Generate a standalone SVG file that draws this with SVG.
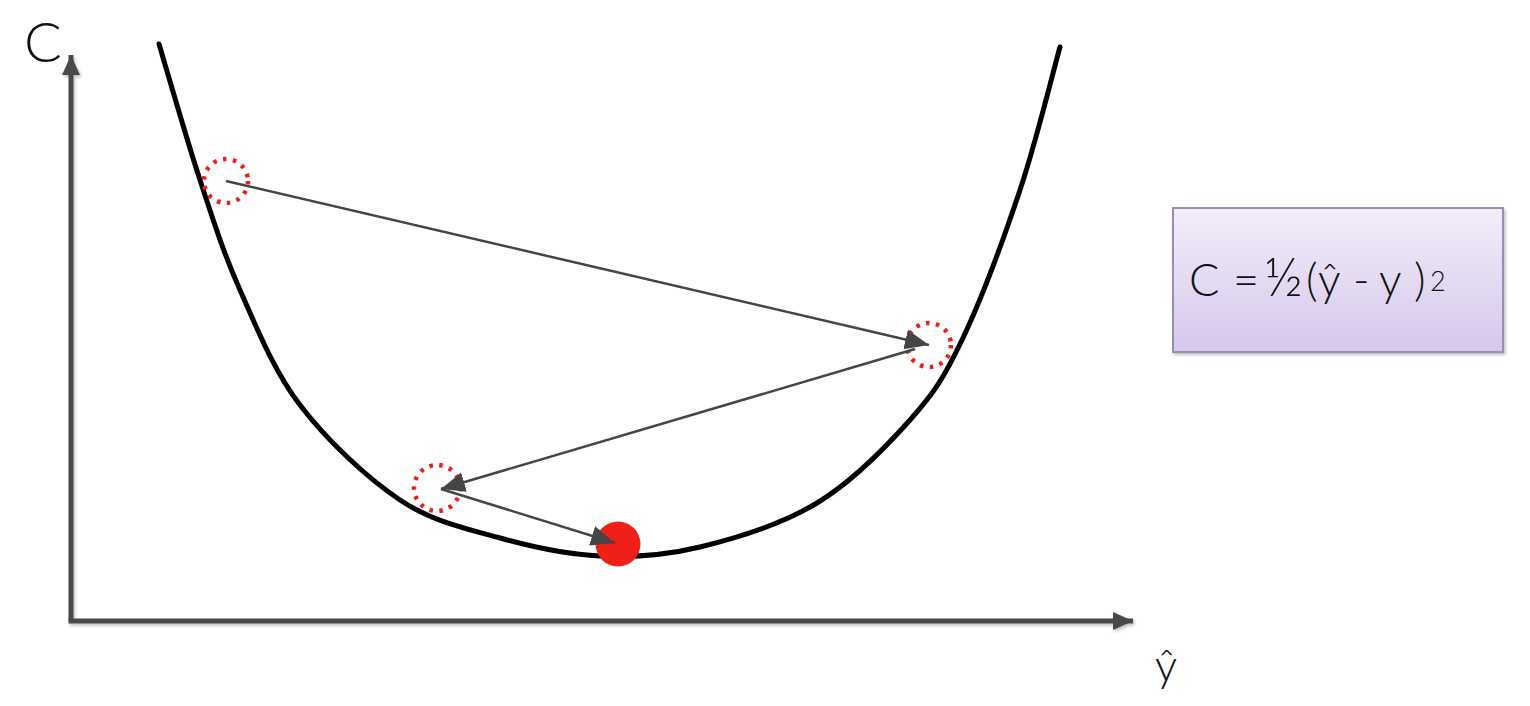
<svg xmlns="http://www.w3.org/2000/svg" width="1530" height="706" viewBox="0 0 1530 706">
  <style>
    .axis { stroke: #4a4a4a; stroke-width: 5; fill: none; }
    .curve { stroke: #000; stroke-width: 5; fill: none; stroke-linecap: round; }
    .dotted { fill: none; stroke: #e8201a; stroke-width: 4.5; stroke-dasharray: 3.5 6.5; }
    .step { stroke: #454545; stroke-width: 2.5; fill: none; }
    .lbl { font-family: Lato, "Open Sans", "Liberation Sans", sans-serif; font-weight: 300; fill: #111; }
  </style>
  <defs>
    <marker id="axhead" markerUnits="userSpaceOnUse" markerWidth="24" markerHeight="24" refX="20" refY="10" orient="auto">
      <path d="M0,1 L20,10 L0,19 Z" fill="#4a4a4a"/>
    </marker>
    <marker id="stephead" markerUnits="userSpaceOnUse" markerWidth="26" markerHeight="22" refX="24" refY="10" orient="auto">
      <path d="M0,0 L24,10 L0,20 Z" fill="#454545"/>
    </marker>
    <linearGradient id="boxfill" x1="0" y1="0" x2="0" y2="1">
      <stop offset="0" stop-color="#f2eef8"/>
      <stop offset="1" stop-color="#d6c7ec"/>
    </linearGradient>
    <filter id="shadow" x="-10%" y="-10%" width="130%" height="130%">
      <feDropShadow dx="1.5" dy="2" stdDeviation="1.5" flood-color="#000" flood-opacity="0.25"/>
    </filter>
  </defs>

  <g id="axes" filter="url(#shadow)">
    <path class="axis" d="M71,621 L71,55" marker-end="url(#axhead)"/>
    <path class="axis" d="M68.5,621 L1133,621" marker-end="url(#axhead)"/>
  </g>

  <g id="axis-labels">
    <text class="lbl" x="24" y="62" font-size="56">C</text>
    <text class="lbl" x="1155" y="681" font-size="44">ŷ</text>
  </g>

  <g id="cost-curve">
    <path class="curve" d="M159,44 C165.8,66.7 186.5,139 200,180 C213.5,221 223.3,252.5 240,290 C256.7,327.5 273.3,370 300,405 C326.7,440 366.7,477.8 400,500 C433.3,522.2 466.7,528.7 500,538 C533.3,547.3 566.7,554.5 600,556 C633.3,557.5 663.8,555.8 700,547 C736.2,538.2 782,524.2 817,503 C852,481.8 885.8,447.2 910,420 C934.2,392.8 943.7,378.3 962,340 C980.3,301.7 1003.7,238.8 1020,190 C1036.3,141.2 1053.3,70.8 1060,47"/>
  </g>

  <g id="step1"><circle class="dotted" cx="226" cy="181" r="22"/></g>
  <g id="step2"><circle class="dotted" cx="929" cy="345" r="22"/></g>
  <g id="step3"><circle class="dotted" cx="437" cy="488" r="23"/></g>
  <g id="minimum"><circle cx="618" cy="544" r="22.5" fill="#ee2018"/></g>

  <g id="connectors">
    <line class="step" x1="226" y1="181" x2="929" y2="345" marker-end="url(#stephead)"/>
    <line class="step" x1="915" y1="349" x2="441" y2="489" marker-end="url(#stephead)"/>
    <line class="step" x1="441" y1="489" x2="615" y2="543" marker-end="url(#stephead)"/>
  </g>

  <g id="formula-box">
    <rect x="1173" y="208" width="330" height="144" fill="url(#boxfill)" stroke="#9b8cb3" stroke-width="2" filter="url(#shadow)"/>
    <text class="lbl" y="296" font-size="45" fill="#222"><tspan x="1189">C</tspan><tspan x="1233">=</tspan><tspan x="1264" font-size="54">½</tspan><tspan x="1306">(</tspan><tspan x="1318">ŷ</tspan><tspan x="1353">-</tspan><tspan x="1379">y</tspan><tspan x="1414">)</tspan><tspan x="1430" y="291" font-size="27">2</tspan></text>
  </g>
</svg>
